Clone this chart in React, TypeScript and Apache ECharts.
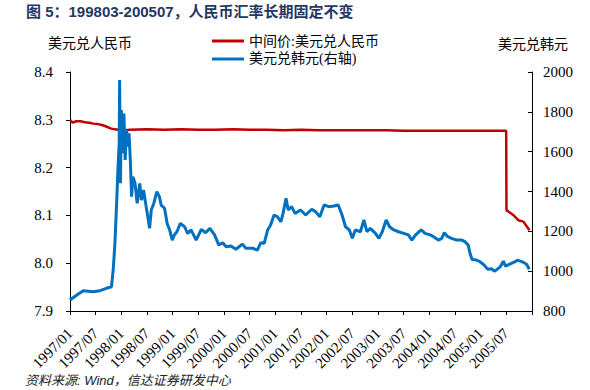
import React, { useEffect, useRef } from "react";
import * as echarts from "echarts";

const titleText = "图 5：199803-200507，人民币汇率长期固定不变";
const sourceText = "资料来源: Wind，信达证券研发中心";
const leftAxisName = "美元兑人民币";
const rightAxisName = "美元兑韩元";
const seriesNames = ["中间价:美元兑人民币", "美元兑韩元(右轴)"];

const cnyDates = [
  "1997-01-01", "1997-01-20", "1997-02-15", "1997-03-15", "1997-04-15", "1997-05-15",
  "1997-06-15", "1997-07-15", "1997-08-15", "1997-09-15", "1997-10-15", "1997-11-15",
  "1997-12-10", "1997-12-25", "1998-03-01", "1998-07-01", "1998-11-01", "1999-03-01",
  "1999-07-01", "1999-11-01", "2000-03-01", "2000-07-01", "2000-11-01", "2001-03-01",
  "2001-07-01", "2001-11-01", "2002-03-01", "2002-07-01", "2002-11-01", "2003-03-01",
  "2003-07-01", "2003-11-01", "2004-03-01", "2004-07-01", "2004-11-01", "2005-03-01",
  "2005-06-30", "2005-07-02", "2005-08-19", "2005-09-25", "2005-11-01", "2005-12-13",
];
const cnyValues = [
  8.300, 8.294, 8.297, 8.297, 8.295, 8.294,
  8.292, 8.291, 8.289, 8.286, 8.282, 8.280,
  8.279, 8.277, 8.279, 8.280, 8.279, 8.280,
  8.279, 8.279, 8.280, 8.279, 8.279, 8.278,
  8.279, 8.278, 8.278, 8.278, 8.278, 8.278,
  8.277, 8.277, 8.277, 8.277, 8.277, 8.277,
  8.277, 8.111, 8.101, 8.090, 8.087, 8.069,
];

const krwDates = [
  "1997-01-01", "1997-02-19", "1997-04-04", "1997-06-13", "1997-08-01", "1997-09-16",
  "1997-10-22", "1997-11-04", "1997-11-16", "1997-11-28", "1997-12-07", "1997-12-16",
  "1997-12-19", "1997-12-25", "1998-01-01", "1998-01-10", "1998-01-19", "1998-01-28",
  "1998-02-07", "1998-02-19", "1998-02-25", "1998-03-04", "1998-03-13", "1998-03-22",
  "1998-04-07", "1998-04-22", "1998-05-10", "1998-05-22", "1998-06-07", "1998-06-25",
  "1998-07-07", "1998-07-19", "1998-08-01", "1998-08-19", "1998-09-10", "1998-09-28",
  "1998-10-10", "1998-11-04", "1998-11-22", "1998-12-10", "1998-12-28", "1999-01-13",
  "1999-02-01", "1999-02-25", "1999-03-25", "1999-04-16", "1999-05-10", "1999-06-16",
  "1999-07-22", "1999-08-22", "1999-09-22", "1999-10-25", "1999-11-25", "1999-12-22",
  "2000-01-16", "2000-02-19", "2000-03-25", "2000-05-10", "2000-06-04", "2000-07-22",
  "2000-08-25", "2000-09-19", "2000-10-13", "2000-11-07", "2000-11-28", "2000-12-22",
  "2001-01-16", "2001-02-10", "2001-02-25", "2001-03-16", "2001-04-01", "2001-04-25",
  "2001-05-19", "2001-06-28", "2001-08-04", "2001-09-16", "2001-10-13", "2001-11-13",
  "2001-12-13", "2002-01-16", "2002-02-22", "2002-03-22", "2002-04-19", "2002-05-13",
  "2002-06-10", "2002-07-01", "2002-07-22", "2002-08-28", "2002-09-22", "2002-10-13",
  "2002-11-07", "2002-12-13", "2003-01-07", "2003-02-01", "2003-02-28", "2003-03-22",
  "2003-04-22", "2003-05-25", "2003-07-01", "2003-08-04", "2003-08-28", "2003-09-25",
  "2003-11-04", "2003-12-01", "2004-01-07", "2004-02-01", "2004-03-04", "2004-03-28",
  "2004-04-16", "2004-05-10", "2004-06-07", "2004-07-13", "2004-08-19", "2004-09-10",
  "2004-10-04", "2004-10-16", "2004-11-01", "2004-12-01", "2004-12-25", "2005-01-25",
  "2005-02-19", "2005-03-16", "2005-04-10", "2005-05-16", "2005-06-10", "2005-06-25",
  "2005-07-25", "2005-08-25", "2005-09-19", "2005-10-28", "2005-11-23", "2005-12-12",
];
const krwValues = [
  855, 880, 902, 897, 902, 914,
  922, 1006, 1140, 1341, 1508, 1642,
  1960, 1441, 1809, 1592, 1792, 1558,
  1709, 1625, 1692, 1558, 1374, 1474,
  1441, 1341, 1441, 1357, 1407, 1324,
  1273, 1215, 1307, 1341, 1399, 1374,
  1332, 1316, 1240, 1207, 1156, 1182,
  1198, 1240, 1223, 1190, 1207, 1156,
  1210, 1193, 1215, 1182, 1131, 1143,
  1123, 1126, 1110, 1136, 1115, 1115,
  1106, 1143, 1140, 1207, 1232, 1282,
  1273, 1248, 1290, 1366, 1307, 1324,
  1290, 1307, 1282, 1311, 1299, 1273,
  1332, 1324, 1327, 1332, 1282, 1223,
  1207, 1165, 1207, 1198, 1257, 1198,
  1215, 1190, 1165, 1198, 1257, 1223,
  1207, 1198, 1190, 1182, 1156, 1182,
  1207, 1190, 1182, 1173, 1156, 1165,
  1193, 1173, 1165, 1156, 1156, 1148,
  1131, 1090, 1059, 1056, 1048, 1031,
  1010, 1012, 1000, 1020, 1050, 1025,
  1035, 1045, 1055, 1045, 1035, 1010,
];

const leftTicks = { min: 7.9, max: 8.4, interval: 0.1 };
const rightTicks = { min: 800, max: 2000, interval: 200 };
const xTicks = { min: 0, max: 108, interval: 6 };

function toMonth(d: string): number {
  const [y, m, day] = d.split("-").map(Number);
  return (y - 1997) * 12 + (m - 1) + (day - 1) / 30;
}

function monthLabel(v: number): string {
  if (v >= 108) return "";
  const y = 1997 + Math.floor(v / 12);
  const m = Math.round(v % 12) + 1;
  return `${y}/${m < 10 ? "0" + m : m}`;
}

const SERIF = "'Liberation Serif', 'Times New Roman', 'Noto Sans CJK SC', serif";
const SANS = "'Liberation Sans', Arial, 'Noto Sans CJK SC', sans-serif";

export default function App() {
  const ref = useRef<HTMLDivElement>(null);
  useEffect(() => {
    if (!ref.current) return;
    const chart = echarts.init(ref.current, undefined, { renderer: "svg" });
    const option: any = {
      animation: false,
      backgroundColor: "#ffffff",
      grid: { left: 70, right: 58, top: 72, bottom: 79, containLabel: false },
      legend: {
        orient: "vertical",
        left: 207,
        top: 29,
        itemWidth: 32,
        itemHeight: 3,
        itemGap: 4,
        icon: "rect",
        textStyle: { fontFamily: SERIF, fontSize: 14, color: "#000" },
        data: seriesNames,
      },
      xAxis: {
        type: "value",
        min: xTicks.min,
        max: xTicks.max,
        interval: xTicks.interval,
        axisLine: { lineStyle: { color: "#000", width: 1 } },
        axisTick: { show: true, length: 4, lineStyle: { color: "#000" } },
        splitLine: { show: false },
        axisLabel: {
          rotate: 45,
          margin: 20,
          fontFamily: SERIF,
          fontSize: 15,
          color: "#000",
          formatter: (v: number) => monthLabel(v),
          showMaxLabel: true,
        },
      },
      yAxis: [
        {
          type: "value",
          position: "left",
          min: leftTicks.min,
          max: leftTicks.max,
          interval: leftTicks.interval,
          axisLine: { show: true, lineStyle: { color: "#000", width: 1 } },
          axisTick: { show: true, length: 4, lineStyle: { color: "#000" } },
          splitLine: { show: false },
          axisLabel: {
            margin: 17,
            fontFamily: SERIF,
            fontSize: 15,
            color: "#000",
            formatter: (v: number) => v.toFixed(1),
          },
        },
        {
          type: "value",
          position: "right",
          min: rightTicks.min,
          max: rightTicks.max,
          interval: rightTicks.interval,
          axisLine: { show: true, lineStyle: { color: "#000", width: 1 } },
          axisTick: { show: true, inside: true, length: 4, lineStyle: { color: "#000" } },
          splitLine: { show: false },
          axisLabel: {
            margin: 11,
            fontFamily: SERIF,
            fontSize: 15,
            color: "#000",
            formatter: (v: number) => String(v),
          },
        },
      ],
      series: [
        {
          name: seriesNames[0],
          type: "line",
          yAxisIndex: 0,
          showSymbol: false,
          symbol: "none",
          color: "#C00000",
          lineStyle: { color: "#C00000", width: 2.5 },
          data: cnyDates.map((d, i) => [toMonth(d), cnyValues[i]]),
        },
        {
          name: seriesNames[1],
          type: "line",
          yAxisIndex: 1,
          showSymbol: false,
          symbol: "none",
          color: "#0070C0",
          lineStyle: { color: "#0070C0", width: 3 },
          data: krwDates.map((d, i) => [toMonth(d), krwValues[i]]),
        },
      ],
      graphic: [
        {
          type: "text",
          left: 26,
          top: 4,
          style: {
            text: titleText,
            fontFamily: SANS,
            fontSize: 15,
            fontWeight: "bold",
            fill: "#1F3864",
          },
        },
        {
          type: "text",
          left: 48,
          top: 36,
          style: { text: leftAxisName, fontFamily: SERIF, fontSize: 14, fill: "#000" },
        },
        {
          type: "text",
          left: 498,
          top: 37,
          style: { text: rightAxisName, fontFamily: SERIF, fontSize: 14, fill: "#000" },
        },
        {
          type: "text",
          left: 25,
          top: 374,
          style: {
            text: sourceText,
            fontFamily: SANS,
            fontSize: 13,
            fontStyle: "italic",
            fill: "#222",
          },
        },
      ],
    };
    chart.setOption(option);
    return () => chart.dispose();
  }, []);
  return <div ref={ref} style={{ width: 590, height: 390, position: "absolute", left: 0, top: 0 }} />;
}
